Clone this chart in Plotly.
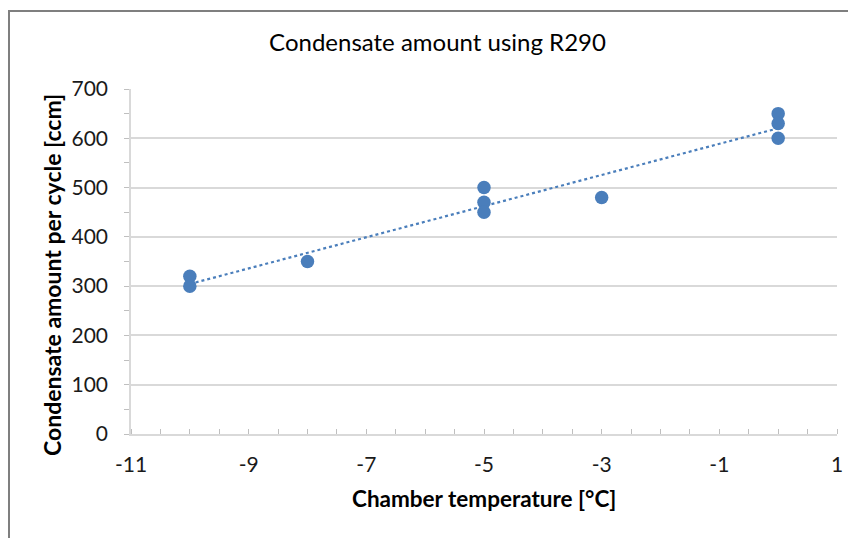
import numpy as np
import plotly.graph_objects as go

temps = [-10, -10, -8, -5, -5, -5, -3, 0, 0, 0]
amounts = [320, 300, 350, 500, 470, 450, 480, 650, 630, 600]
x_ticks = [-11, -9, -7, -5, -3, -1, 1]
x_tick_labels = ["-11", "-9", "-7", "-5", "-3", "-1", "1"]
y_ticks = [0, 100, 200, 300, 400, 500, 600, 700]
title_text = "Condensate amount using R290"
x_title = "Chamber temperature [°C]"
y_title = "Condensate amount per cycle [ccm]"

slope, intercept = np.polyfit(temps, amounts, 1)
trend_x = [min(temps), max(temps)]
trend_y = [slope * t + intercept for t in trend_x]

color = "#4a7ebb"
font_family = "Lato, Open Sans, sans-serif"

fig = go.Figure()
fig.add_trace(go.Scatter(x=trend_x, y=trend_y, mode="lines",
                         line=dict(color=color, width=2.2, dash="dot"),
                         hoverinfo="skip", showlegend=False))
fig.add_trace(go.Scatter(x=temps, y=amounts, mode="markers",
                         marker=dict(color=color, size=13.5), showlegend=False))

# page has an 8px body margin; figure coordinates are page minus 8
W, H = 848, 530
L, R, T, B = 123, 19, 81, 104
pw, ph = W - L - R, H - T - B

fig.update_layout(
    width=W, height=H,
    margin=dict(l=L, r=R, t=T, b=B, autoexpand=False),
    paper_bgcolor="white", plot_bgcolor="white",
    font=dict(family=font_family, color="#000000"),
    title=dict(text=title_text, x=(429.5 - L) / pw, xref="paper", xanchor="center",
               y=1 - 35 / H, yanchor="middle", font=dict(size=24, color="#000000")),
    xaxis=dict(range=[-11, 1], tickvals=x_ticks, ticktext=x_tick_labels,
               showgrid=False, zeroline=False,
               showline=True, linecolor="#d9d9d9", linewidth=1.5,
               ticks="", tickfont=dict(size=21, color="#1a1a1a"), ticklabelstandoff=11,
               minor=dict(dtick=0.5, tick0=-11, ticks="inside", ticklen=5,
                          tickcolor="#bfbfbf", tickwidth=1, showgrid=False)),
    yaxis=dict(range=[0, 700], tickvals=y_ticks, showgrid=True, gridcolor="#d9d9d9", gridwidth=1.5,
               zeroline=False, showline=True, linecolor="#d9d9d9", linewidth=1.5,
               ticks="outside", ticklen=5, tickcolor="#bfbfbf",
               tickfont=dict(size=21, color="#1a1a1a"), ticklabelstandoff=12,
               minor=dict(dtick=50, ticks="outside", ticklen=5, tickcolor="#bfbfbf",
                          showgrid=False)),
    annotations=[
        dict(text="<b>" + x_title + "</b>", xref="paper", yref="paper",
             x=(476 - L) / pw, y=(T + ph - 490) / ph, xanchor="center", yanchor="middle",
             showarrow=False, font=dict(size=22.5, color="#000000")),
        dict(text="<b>" + y_title + "</b>", xref="paper", yref="paper", textangle=-90,
             x=(44 - L) / pw, y=(T + ph - 267) / ph, xanchor="center", yanchor="middle",
             showarrow=False, font=dict(size=23, color="#000000")),
    ],
    shapes=[dict(type="rect", xref="paper", yref="paper",
                 x0=(1 - L) / pw, x1=(W + 20 - L) / pw,
                 y0=-(H + 20 - T - ph) / ph, y1=(T + ph - 3) / ph,
                 line=dict(color="#7f7f7f", width=2), fillcolor="rgba(0,0,0,0)", layer="below")],
)

fig.write_html("out.html")
